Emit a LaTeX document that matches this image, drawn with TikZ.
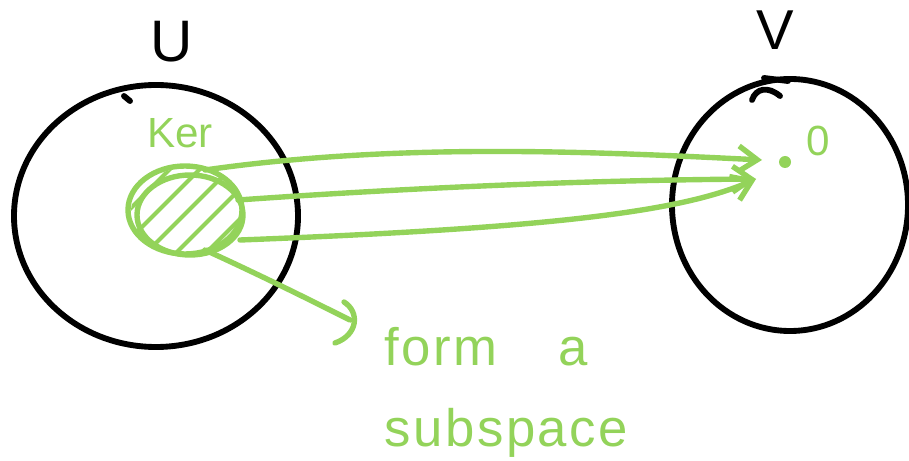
\documentclass[tikz,border=0pt]{standalone}
\usepackage{fontspec}
\setmainfont{Liberation Sans}
\newfontfamily\handfont[LetterSpace=5]{Liberation Sans}
\usetikzlibrary{arrows.meta}
\definecolor{SketchGreen}{HTML}{93D35A}
\definecolor{InkBlack}{HTML}{000000}

\begin{document}
\begin{tikzpicture}[x=0.03cm,y=-0.03cm,
  ink/.style={InkBlack,line width=5pt,line cap=round},
  pen/.style={SketchGreen,line width=4.6pt,line cap=round},
  maps/.style={pen,-{Straight Barb[length=16pt,width=22pt]}}]
  \useasboundingbox (0,0) rectangle (909,461);
  % the two spaces
  \draw[ink] (156,216) ellipse (142 and 131);
  \draw[ink] (790,205) ellipse (118 and 126);
  \draw[ink] (124,96) -- (130,101);
  \draw[ink] (752,100) .. controls (756,88) and (768,86) .. (780,96);
  \draw[ink] (764,78) -- (788,81);
  \node[anchor=base,text=InkBlack,font=\fontsize{50}{50}\selectfont] (ulabel) at (172,62) {U};
  \node[anchor=base,text=InkBlack,font=\fontsize{48}{48}\selectfont] (vlabel) at (775,50) {V};
  % kernel, hatched
  \coordinate (ker) at (187,212);
  \begin{scope}
    \clip (ker) ellipse (56 and 44);
    \foreach \d in {-120,-90,...,120}
      \draw[pen,line width=3.6pt] (127+\d,272) -- (247+\d,152);
  \end{scope}
  \draw[pen] (185,210) ellipse (57 and 44);
  \draw[pen] (190,215) ellipse (53 and 40);
  \node[anchor=base,text=SketchGreen,font=\fontsize{36}{36}\selectfont] (kerlabel) at (180,148) {Ker};
  % zero vector of V
  \coordinate (zero) at (785,162);
  \fill[SketchGreen] (zero) circle (6);
  \node[anchor=base,text=SketchGreen,font=\fontsize{36}{36}\selectfont] (zerolabel) at (818,156) {0};
  % everything in the kernel goes to 0
  \coordinate (kerA) at (205,170);
  \coordinate (kerB) at (238,200);
  \coordinate (kerC) at (240,240);
  \coordinate (tipA) at (762,160);
  \coordinate (tipB) at (756,179);
  \draw[maps] (kerA) .. controls (400,142) and (600,152) .. (tipA);
  \draw[maps] (kerB) .. controls (450,185) and (620,180) .. (tipB);
  \draw[maps] (kerC) .. controls (550,228) and (680,212) .. (tipB);
  % remark
  \coordinate (kerD) at (205,250);
  \coordinate (note) at (350,320);
  \draw[pen] (kerD) .. controls (260,275) and (310,300) .. (note);
  \draw[pen] (344,302) .. controls (360,312) and (358,335) .. (335,343);
  \node[anchor=base west,text=SketchGreen,font=\handfont\fontsize{45}{45}\selectfont] (formtext) at (380,365) {form\hspace{52pt}a};
  \node[anchor=base west,text=SketchGreen,font=\handfont\fontsize{45}{45}\selectfont] (subtext) at (380,446) {subspace};
\end{tikzpicture}
\end{document}
